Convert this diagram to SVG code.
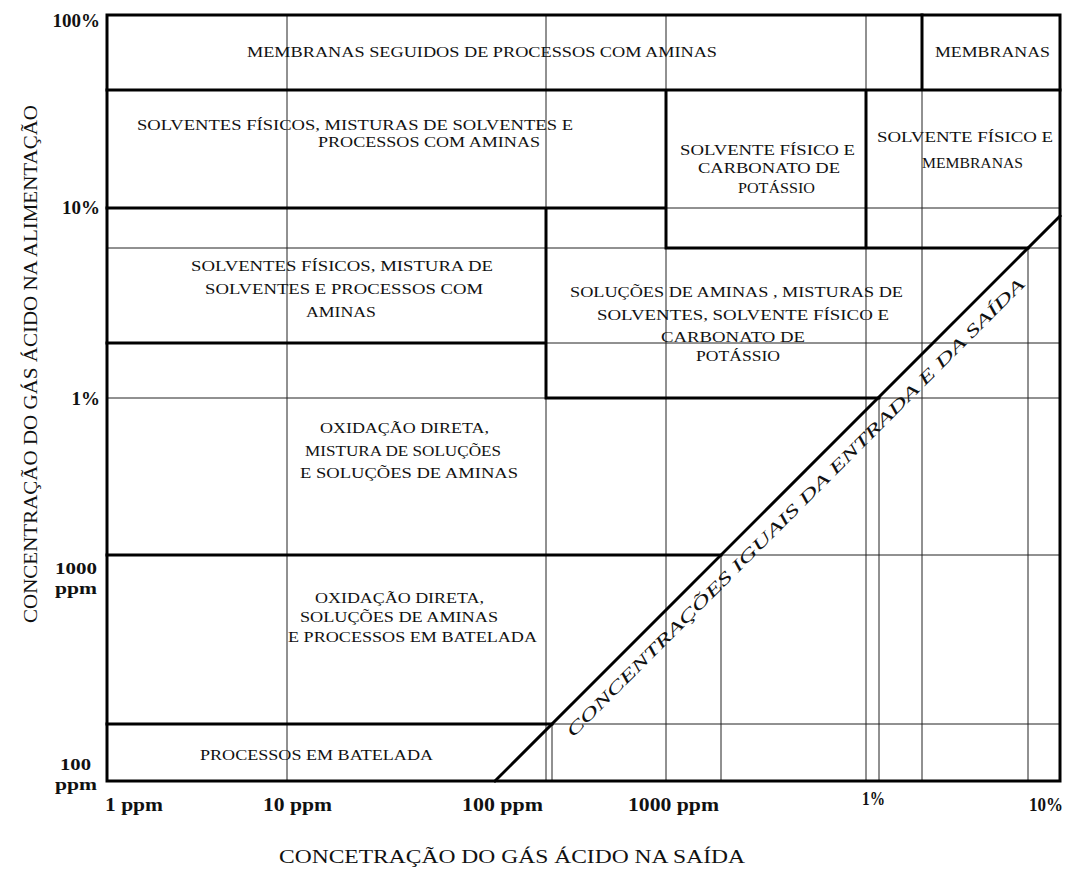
<svg xmlns="http://www.w3.org/2000/svg" width="1065" height="869" viewBox="0 0 1065 869">
<style>
.thin{stroke:#222;stroke-width:1;fill:none}
.thick{stroke:#000;stroke-width:3;fill:none;stroke-linecap:square}
.t{font-family:"Liberation Serif","Times New Roman",serif;font-size:15px;fill:#111}
.tick{font-family:"Liberation Serif","Times New Roman",serif;font-size:19px;font-weight:bold;fill:#111}
.tick2{font-family:"Liberation Serif","Times New Roman",serif;font-size:17px;font-weight:bold;fill:#111}
.title{font-family:"Liberation Serif","Times New Roman",serif;font-size:19px;fill:#111}
.diag{font-family:"Liberation Serif","Times New Roman",serif;font-size:17px;font-style:italic;fill:#111}
</style>
<rect x="0" y="0" width="1065" height="869" fill="#fff"/>
<g id="grid">
<path class="thin" d="M287 15V781 M546 15V208 M546 398V781 M552 724V781 M666 15V90 M666 248V781 M721 555V781 M866 15V90 M866 248V781 M879 398V781 M922 90V781 M1028 248V781"/>
<path class="thin" d="M666 208H1060 M107 248H666 M1028 248H1060 M546 343H1060 M107 398H546 M879 398H1060 M721 555H1060 M552 724H1060"/>
</g>
<g id="connectors">
<rect class="thick" x="107" y="15" width="953" height="766"/>
<path class="thick" d="M107 90H1060 M922 15V90 M666 90V248H866V90 M866 248H1028 M107 208H666 M546 208V398 M107 343H546 M546 398H879 M107 555H721 M107 724H552"/>
<path class="thick" d="M495 781L1060 216" stroke-linecap="butt"/>
</g>
<g id="node-membranas-aminas"><text class="t" x="247" y="57" textLength="470" lengthAdjust="spacingAndGlyphs">MEMBRANAS SEGUIDOS DE PROCESSOS COM AMINAS</text></g>
<g id="node-membranas"><text class="t" x="935" y="57" textLength="115" lengthAdjust="spacingAndGlyphs">MEMBRANAS</text></g>
<g id="node-solventes-fisicos-1">
<text class="t" x="137" y="130" textLength="436" lengthAdjust="spacingAndGlyphs">SOLVENTES FÍSICOS, MISTURAS  DE SOLVENTES E</text>
<text class="t" x="318" y="147" textLength="222" lengthAdjust="spacingAndGlyphs">PROCESSOS COM AMINAS</text>
</g>
<g id="node-solvente-carbonato">
<text class="t" x="680" y="155" textLength="175" lengthAdjust="spacingAndGlyphs">SOLVENTE FÍSICO E</text>
<text class="t" x="698" y="173" textLength="142" lengthAdjust="spacingAndGlyphs">CARBONATO DE</text>
<text class="t" x="738" y="193" textLength="77" lengthAdjust="spacingAndGlyphs">POTÁSSIO</text>
</g>
<g id="node-solvente-membranas">
<text class="t" x="877" y="142" textLength="176" lengthAdjust="spacingAndGlyphs">SOLVENTE FÍSICO E</text>
<text class="t" x="922" y="168" textLength="101" lengthAdjust="spacingAndGlyphs">MEMBRANAS</text>
</g>
<g id="node-solventes-fisicos-2">
<text class="t" x="191" y="271" textLength="302" lengthAdjust="spacingAndGlyphs">SOLVENTES  FÍSICOS, MISTURA DE</text>
<text class="t" x="205" y="294" textLength="278" lengthAdjust="spacingAndGlyphs">SOLVENTES E  PROCESSOS COM</text>
<text class="t" x="306" y="317" textLength="70" lengthAdjust="spacingAndGlyphs">AMINAS</text>
</g>
<g id="node-solucoes-aminas">
<text class="t" x="570" y="297" textLength="333" lengthAdjust="spacingAndGlyphs">SOLUÇÕES DE AMINAS , MISTURAS  DE</text>
<text class="t" x="597" y="320" textLength="292" lengthAdjust="spacingAndGlyphs">SOLVENTES, SOLVENTE FÍSICO E</text>
<text class="t" x="661" y="342" textLength="144" lengthAdjust="spacingAndGlyphs">CARBONATO DE</text>
<text class="t" x="696" y="361" textLength="84" lengthAdjust="spacingAndGlyphs">POTÁSSIO</text>
</g>
<g id="node-oxidacao-1">
<text class="t" x="320" y="433" textLength="169" lengthAdjust="spacingAndGlyphs">OXIDAÇÃO DIRETA,</text>
<text class="t" x="305" y="456" textLength="196" lengthAdjust="spacingAndGlyphs">MISTURA DE SOLUÇÕES</text>
<text class="t" x="300" y="478" textLength="218" lengthAdjust="spacingAndGlyphs">E SOLUÇÕES DE AMINAS</text>
</g>
<g id="node-oxidacao-2">
<text class="t" x="315" y="603" textLength="169" lengthAdjust="spacingAndGlyphs">OXIDAÇÃO DIRETA,</text>
<text class="t" x="300" y="622" textLength="198" lengthAdjust="spacingAndGlyphs">SOLUÇÕES DE AMINAS</text>
<text class="t" x="288" y="642" textLength="249" lengthAdjust="spacingAndGlyphs">E PROCESSOS EM BATELADA</text>
</g>
<g id="node-batelada"><text class="t" x="200" y="760" textLength="233" lengthAdjust="spacingAndGlyphs">PROCESSOS EM BATELADA</text></g>
<g id="diagonal-label"><text class="diag" transform="translate(573,738) rotate(-45)" textLength="640" lengthAdjust="spacingAndGlyphs">CONCENTRAÇÕES IGUAIS DA ENTRADA E DA SAÍDA</text></g>
<g id="y-ticks" text-anchor="end">
<text class="tick" x="100" y="27">100%</text>
<text class="tick" x="100" y="214">10%</text>
<text class="tick" x="100" y="405">1%</text>
<text class="tick2" x="97" y="574" textLength="42" lengthAdjust="spacingAndGlyphs">1000</text>
<text class="tick2" x="97" y="594" textLength="42" lengthAdjust="spacingAndGlyphs">ppm</text>
<text class="tick2" x="91" y="770" textLength="31" lengthAdjust="spacingAndGlyphs">100</text>
<text class="tick2" x="97" y="790" textLength="42" lengthAdjust="spacingAndGlyphs">ppm</text>
</g>
<g id="x-ticks">
<text class="tick" x="105" y="811" textLength="58" lengthAdjust="spacingAndGlyphs">1 ppm</text>
<text class="tick" x="263" y="811" textLength="69" lengthAdjust="spacingAndGlyphs">10 ppm</text>
<text class="tick" x="462" y="811" textLength="81" lengthAdjust="spacingAndGlyphs">100 ppm</text>
<text class="tick" x="628" y="811" textLength="91" lengthAdjust="spacingAndGlyphs">1000 ppm</text>
<text class="tick" x="862" y="805" textLength="23" lengthAdjust="spacingAndGlyphs">1%</text>
<text class="tick" x="1029" y="811" textLength="34" lengthAdjust="spacingAndGlyphs">10%</text>
</g>
<g id="axis-titles">
<text class="title" x="279" y="863" textLength="466" lengthAdjust="spacingAndGlyphs">CONCETRAÇÃO DO GÁS ÁCIDO NA SAÍDA</text>
<text class="title" transform="translate(37,623) rotate(-90)" textLength="518" lengthAdjust="spacingAndGlyphs">CONCENTRAÇÃO DO GÁS ÁCIDO NA ALIMENTAÇÃO</text>
</g>
</svg>
